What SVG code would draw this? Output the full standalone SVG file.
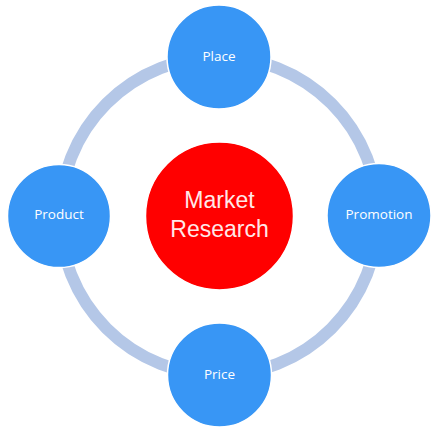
<svg xmlns="http://www.w3.org/2000/svg" width="435" height="434" viewBox="0 0 435 434">
<style>
.sat{fill:#3896F5;stroke:#ffffff;stroke-width:1.5}
.lbl{font-family:"Open Sans","Liberation Sans",Arial,sans-serif;font-size:13.5px;fill:#ffffff;text-anchor:middle}
.ctr{font-family:"Liberation Sans",Arial,sans-serif;font-size:23px;fill:#FFE8E8;text-anchor:middle}
</style>
<rect width="435" height="434" fill="#ffffff"/>
<g id="connectors">
<circle cx="219" cy="216" r="159" fill="none" stroke="#B4C7E7" stroke-width="12"/>
</g>
<g id="market-research">
<circle cx="219.5" cy="216" r="74" fill="#FF0000" stroke="#ffffff" stroke-width="1.5"/>
<text class="ctr" x="219.5" y="208">Market</text>
<text class="ctr" x="219.5" y="237">Research</text>
</g>
<g id="place">
<circle class="sat" cx="219" cy="57" r="52"/>
<text class="lbl" x="219" y="61">Place</text>
</g>
<g id="promotion">
<circle class="sat" cx="379" cy="215.5" r="52"/>
<text class="lbl" x="379" y="219">Promotion</text>
</g>
<g id="product">
<circle class="sat" cx="59" cy="216" r="51.5"/>
<text class="lbl" x="59" y="219">Product</text>
</g>
<g id="price">
<circle class="sat" cx="219.5" cy="375" r="52"/>
<text class="lbl" x="219.5" y="379">Price</text>
</g>
</svg>
